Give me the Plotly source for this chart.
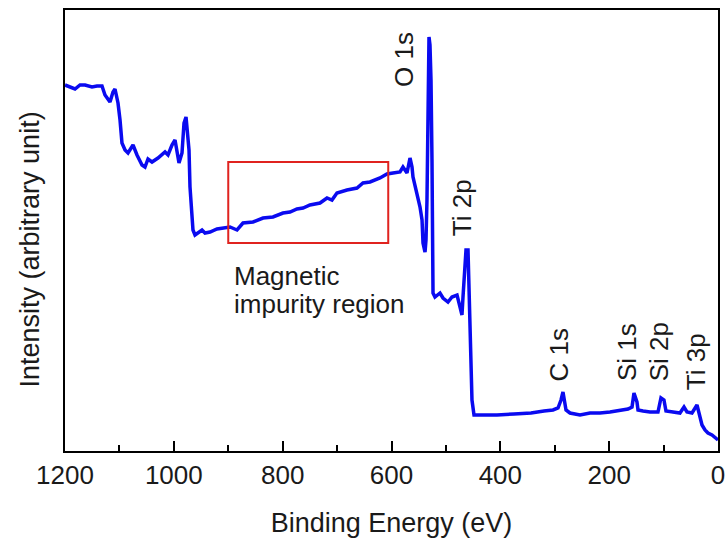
import plotly.graph_objects as go

# Binding energy (eV) and intensity (arbitrary units)
energy = [1200.0, 1190.8, 1181.6, 1172.4, 1163.2, 1150.4, 1141.2, 1132.0, 1126.5, 1117.3,
          1111.8, 1108.1, 1102.6, 1098.9, 1095.3, 1089.7, 1084.2, 1075.0, 1067.7, 1058.5,
          1053.0, 1047.5, 1040.1, 1029.1, 1016.2, 1010.7, 1003.4, 997.8, 994.2, 990.5,
          985.0, 981.3, 977.6, 973.9, 972.1, 970.3, 966.6, 964.8, 961.1, 955.6,
          948.2, 942.7, 933.5, 920.7, 909.6, 896.8, 883.9, 872.9, 854.5, 836.1,
          817.8, 799.4, 786.5, 773.7, 762.6, 749.8, 731.4, 718.5, 709.4, 700.2,
          681.8, 663.4, 652.4, 639.5, 621.1, 608.3, 597.2, 584.4, 578.9, 571.5,
          566.0, 562.3, 560.5, 553.1, 547.6, 543.9, 542.1, 538.4, 536.6, 534.8,
          532.9, 531.1, 529.3, 527.4, 525.6, 524.7, 523.7, 520.1, 510.9, 505.4,
          496.2, 488.8, 479.6, 474.1, 470.5, 468.6, 464.9, 463.1, 459.4, 457.6,
          455.7, 453.9, 452.1, 448.4, 406.1, 374.9, 343.6, 319.8, 303.2, 294.0,
          288.5, 284.9, 283.0, 279.3, 272.0, 253.6, 235.2, 216.9, 198.5, 180.1,
          165.4, 158.0, 154.4, 148.9, 147.0, 137.8, 125.0, 110.3, 104.8, 99.3,
          95.6, 82.7, 69.9, 62.5, 57.0, 47.8, 38.6, 34.9, 29.4, 23.9,
          18.4, 11.1, 5.5, 0.0]
intensity = [366, 364, 362, 366, 366, 364, 365, 365, 356, 349,
             359, 362, 348, 331, 308, 301, 298, 306, 296, 286,
             284, 292, 289, 293, 299, 296, 306, 311, 301, 288,
             298, 328, 334, 314, 301, 264, 238, 221, 216, 218,
             221, 218, 219, 222, 223, 224, 221, 228, 229, 233,
             234, 238, 239, 242, 243, 246, 248, 253, 251, 258,
             261, 263, 268, 269, 273, 277, 278, 279, 284, 278,
             293, 284, 274, 258, 244, 231, 208, 199, 211, 251,
             331, 414, 406, 371, 291, 211, 158, 154, 158, 153,
             149, 154, 156, 144, 136, 154, 184, 201, 201, 164,
             131, 81, 51, 36, 36, 37, 38, 40, 41, 43,
             51, 59, 51, 41, 38, 36, 38, 38, 39, 41,
             42, 44, 58, 49, 41, 40, 39, 39, 53, 51,
             40, 39, 38, 44, 39, 38, 46, 38, 26, 21,
             18, 16, 14, 11]

peak_labels = ["O 1s", "Ti 2p", "C 1s", "Si 1s", "Si 2p", "Ti 3p"]
peak_label_x = [577, 470, 293, 167, 108, 40]
peak_label_y = [391, 243, 96, 99, 99, 89]

region_x = [900, 606]
region_y = [208, 289]
region_text = ["Magnetic", "impurity region"]
region_text_y = [175, 147]

FONT = "Liberation Sans, Arial, sans-serif"
TXT = "#1a1a1a"

fig = go.Figure()
fig.add_trace(go.Scatter(x=energy, y=intensity, mode="lines",
                         line=dict(color="#0a0af0", width=3.5), showlegend=False))

fig.add_shape(type="rect", xref="x", yref="y",
              x0=region_x[0], x1=region_x[1], y0=region_y[0], y1=region_y[1],
              line=dict(color="#e0231f", width=2), fillcolor="rgba(0,0,0,0)")

for t, yy in zip(region_text, region_text_y):
    fig.add_annotation(x=893, y=yy, text=t, showarrow=False, xanchor="left",
                       yanchor="middle", font=dict(family=FONT, size=26, color=TXT))

for t, xx, yy in zip(peak_labels, peak_label_x, peak_label_y):
    fig.add_annotation(x=xx, y=yy, text=t, showarrow=False, textangle=-90,
                       xanchor="center", yanchor="middle",
                       font=dict(family=FONT, size=26, color=TXT))

# y-axis title (placed as annotation to match the reference's vertical offset)
fig.add_annotation(xref="paper", yref="paper", x=0, y=0.457, xshift=-35,
                   text="Intensity (arbitrary unit)", showarrow=False, textangle=-90,
                   xanchor="center", yanchor="middle",
                   font=dict(family=FONT, size=27, color=TXT))

fig.update_layout(
    width=728, height=540,
    margin=dict(l=65, r=10, t=10, b=89),
    paper_bgcolor="white", plot_bgcolor="white",
    font=dict(family=FONT, size=26, color=TXT),
)
fig.update_xaxes(range=[1200, 0], tickmode="array",
                 tickvals=[1200, 1000, 800, 600, 400, 200, 0],
                 ticktext=["1200", "1000", "800", "600", "400", "200", "0"],
                 ticks="inside", ticklen=10, tickwidth=2, tickcolor="black",
                 minor=dict(tickvals=[1100, 900, 700, 500, 300, 100], ticks="inside",
                            ticklen=6, tickwidth=2, tickcolor="black"),
                 showline=True, linecolor="black", linewidth=2, mirror=True,
                 showgrid=False, zeroline=False, automargin=False,
                 tickfont=dict(family=FONT, size=26, color=TXT),
                 title=dict(text="Binding Energy (eV)", standoff=24,
                            font=dict(family=FONT, size=27, color=TXT)))
fig.update_yaxes(range=[0, 441], showticklabels=False, ticks="",
                 showline=True, linecolor="black", linewidth=2, mirror=True,
                 showgrid=False, zeroline=False, automargin=False)

fig.write_html("out.html", config={"displayModeBar": False},
               post_script="document.body.style.margin='0px';document.body.style.overflow='hidden';")
